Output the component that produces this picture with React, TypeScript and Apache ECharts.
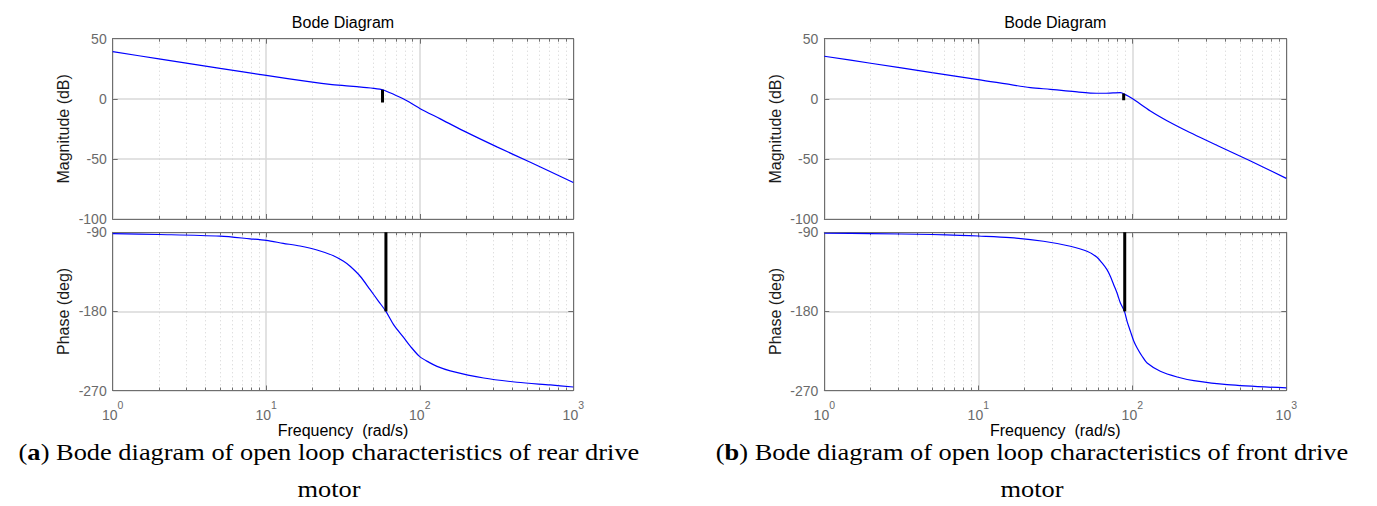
import React, { useEffect, useRef } from 'react';
import * as echarts from 'echarts';

// ---------- data ----------
// (a) rear drive motor
const rearMagFreq = [1, 2, 5, 10, 20, 26, 35, 43, 50, 58, 64, 70, 78, 83, 100, 136, 193, 318, 525, 1000];
const rearMag = [39.2, 33.2, 25.3, 19.5, 13.8, 12.0, 10.6, 9.5, 8.7, 7.3, 5.0, 2.8, 0, -1.9, -8, -16.7, -26.7, -40, -52.8, -69.7];
const rearPhFreq = [1, 2, 5, 7.85, 10, 12.9, 16.6, 21.4, 27.4, 31.9, 35.2, 40.9, 47.5, 53.9, 60.2, 67.5, 78.4, 86.7, 100, 115, 129.5, 158, 261, 430, 709, 1000];
const rearPh = [-91.6, -92.5, -94.4, -97.4, -99.2, -102.5, -105.6, -110.1, -116.6, -123, -128.7, -140, -155.3, -168.5, -180, -195, -209.5, -219.5, -231.5, -238, -242.5, -247.6, -255.8, -260.6, -263.7, -266];
const rearMarkerMagFreq = 57.2;
const rearMarkerMag = [7.5, -3];
const rearMarkerPhFreq = 60.2;
const rearMarkerPh = [-90, -180];

// (b) front drive motor
const frontMagFreq = [1, 2, 5, 10, 21.8, 29.3, 35.8, 45, 53.4, 65.2, 75, 83.7, 90.2, 100, 131, 168, 216, 356, 586, 1000];
const frontMag = [35.4, 29.6, 21.8, 16, 9.3, 7.9, 6.8, 5.5, 4.8, 4.6, 4.9, 5.1, 3.5, 0.2, -10.2, -18.3, -25.5, -38.8, -51.8, -66.2];
const frontPhFreq = [1, 2, 5, 7.63, 10, 16.1, 26.5, 39.6, 50.8, 59, 63.6, 68.5, 72, 75.7, 79.6, 83.7, 88.9, 92.5, 97.2, 102, 107.5, 115.8, 124.8, 152, 195.6, 251, 413, 1000];
const frontPh = [-91.1, -91.5, -92.5, -93.4, -94.2, -96.1, -100.2, -105.9, -111.6, -118.4, -124.9, -132.5, -140.1, -149.6, -159.1, -170.4, -180, -191.4, -202.6, -213.3, -221.6, -231, -238.7, -248.1, -254.6, -258.8, -263.4, -267.1];
const frontMarkerMagFreq = 87.9;
const frontMarkerMag = [4.5, -1.3];
const frontMarkerPhFreq = 89.3;
const frontMarkerPh = [-90, -180];

// axes
const freqRange = [1, 1000];
const magRange = [-100, 50];
const magStep = 50;
const phRange = [-270, -90];
const phStep = 90;

const titleText = 'Bode Diagram';
const xLabelText = 'Frequency  (rad/s)';
const magLabelText = 'Magnitude (dB)';
const phLabelText = 'Phase (deg)';
const captionA = ['a', ') Bode diagram of open loop characteristics of rear drive', 'motor'];
const captionB = ['b', ') Bode diagram of open loop characteristics of front drive', 'motor'];

// ---------- styling ----------
const SANS = '"Liberation Sans", Arial, Helvetica, sans-serif';
const SERIF = '"Liberation Serif", "Times New Roman", serif';
const BORDER = '#6e6e6e';
const TICKLABEL = '#6a6a6a';
const GRID = '#d9d9d9';
const MINOR = '#d2d2d2';
const CURVE = '#0000ff';

const zip = (a: number[], b: number[]) => a.map((v, i) => [v, b[i]]);

function buildOption() {
  const cols = [
    { left: 112.7, width: 460.6, mag: zip(rearMagFreq, rearMag), ph: zip(rearPhFreq, rearPh),
      mMag: [[rearMarkerMagFreq, rearMarkerMag[0]], [rearMarkerMagFreq, rearMarkerMag[1]]],
      mPh: [[rearMarkerPhFreq, rearMarkerPh[0]], [rearMarkerPhFreq, rearMarkerPh[1]]], cap: captionA, capX: 329 },
    { left: 824.3, width: 462, mag: zip(frontMagFreq, frontMag), ph: zip(frontPhFreq, frontPh),
      mMag: [[frontMarkerMagFreq, frontMarkerMag[0]], [frontMarkerMagFreq, frontMarkerMag[1]]],
      mPh: [[frontMarkerPhFreq, frontMarkerPh[0]], [frontMarkerPhFreq, frontMarkerPh[1]]], cap: captionB, capX: 1032 },
  ];
  const rows = [
    { top: 38.7, height: 180.3, range: magRange, step: magStep, key: 'mag', showX: false },
    { top: 232.3, height: 158.2, range: phRange, step: phStep, key: 'ph', showX: true },
  ];

  const grid: any[] = [];
  const xAxis: any[] = [];
  const yAxis: any[] = [];
  const series: any[] = [];
  const graphic: any[] = [];

  cols.forEach((c) => {
    rows.forEach((r) => {
      const gi = grid.length;
      grid.push({ left: c.left, top: r.top, width: c.width, height: r.height, containLabel: false, show: false });
      const baseX = {
        type: 'log', logBase: 10, min: freqRange[0], max: freqRange[1], gridIndex: gi,
        axisLine: { show: true, onZero: false, lineStyle: { color: BORDER, width: 1 } },
        axisTick: { show: true, inside: true, length: 5, lineStyle: { color: BORDER, width: 1 } },
        minorTick: { show: true, splitNumber: 9, length: 3, lineStyle: { color: BORDER, width: 1 } },
      };
      xAxis.push({
        ...baseX, position: 'bottom',
        splitLine: { show: true, lineStyle: { color: GRID, width: 1.5 } },
        minorSplitLine: { show: true, lineStyle: { color: MINOR, width: 1, type: [1, 3] } },
        axisLabel: r.showX ? {
          show: true, margin: 9,
          formatter: (v: number) => `{b|10}{s|${Math.round(Math.log10(v))}}`,
          rich: {
            b: { fontSize: 14, fontFamily: SANS, color: TICKLABEL, lineHeight: 22, verticalAlign: 'bottom' },
            s: { fontSize: 10.5, fontFamily: SANS, color: TICKLABEL, verticalAlign: 'top' },
          },
        } : { show: false },
      });
      xAxis.push({ ...baseX, position: 'top', splitLine: { show: false }, axisLabel: { show: false } });
      const baseY = {
        type: 'value', min: r.range[0], max: r.range[1], interval: r.step, gridIndex: gi,
        axisLine: { show: true, onZero: false, lineStyle: { color: BORDER, width: 1 } },
        axisTick: { show: true, inside: true, length: 5, lineStyle: { color: BORDER, width: 1 } },
      };
      yAxis.push({
        ...baseY, position: 'left',
        splitLine: { show: true, lineStyle: { color: GRID, width: 1.5 } },
        axisLabel: { show: true, margin: 6, fontSize: 14, fontFamily: SANS, color: TICKLABEL },
      });
      yAxis.push({ ...baseY, position: 'right', splitLine: { show: false }, axisLabel: { show: false } });

      series.push({
        type: 'line', xAxisIndex: 2 * gi, yAxisIndex: 2 * gi, data: (c as any)[r.key],
        showSymbol: false, symbol: 'none', smooth: 0.3,
        lineStyle: { color: CURVE, width: 1.2 }, z: 3, silent: true,
      });
      series.push({
        type: 'line', xAxisIndex: 2 * gi, yAxisIndex: 2 * gi,
        data: r.key === 'mag' ? c.mMag : c.mPh,
        showSymbol: false, symbol: 'none', lineStyle: { color: '#000', width: 3, cap: 'butt' }, z: 4, silent: true,
      });

      const yc = r.top + r.height / 2;
      graphic.push({
        type: 'text', x: c.left - 49, y: yc, rotation: Math.PI / 2,
        style: { text: r.key === 'mag' ? magLabelText : phLabelText, fontSize: 16, fontFamily: SANS, fill: '#1a1a1a', textAlign: 'center', textVerticalAlign: 'middle' },
      });
    });
    const xc = c.left + c.width / 2;
    graphic.push({
      type: 'text', x: xc, y: 22,
      style: { text: titleText, fontSize: 16, fontFamily: SANS, fill: '#000', textAlign: 'center', textVerticalAlign: 'middle' },
    });
    graphic.push({
      type: 'text', x: xc, y: 430.5,
      style: { text: xLabelText, fontSize: 16, fontFamily: SANS, fill: '#000', textAlign: 'center', textVerticalAlign: 'middle' },
    });
    graphic.push({
      type: 'text', x: c.capX, y: 451.5, scaleX: 1.1,
      style: {
        text: `({a|${c.cap[0]}}${c.cap[1]}`,
        fontSize: 24, fontFamily: SERIF, fill: '#000', textAlign: 'center', textVerticalAlign: 'middle',
        rich: { a: { fontSize: 24, fontFamily: SERIF, fontWeight: 'bold', fill: '#000' } },
      },
    });
    graphic.push({
      type: 'text', x: c.capX, y: 489, scaleX: 1.1,
      style: { text: c.cap[2], fontSize: 24, fontFamily: SERIF, fill: '#000', textAlign: 'center', textVerticalAlign: 'middle' },
    });
  });

  return { animation: false, backgroundColor: '#ffffff', grid, xAxis, yAxis, series, graphic };
}

export default function App() {
  const ref = useRef<HTMLDivElement>(null);
  useEffect(() => {
    if (!ref.current) return;
    const chart = echarts.init(ref.current, null, { renderer: 'svg' });
    chart.setOption(buildOption() as any);
    return () => chart.dispose();
  }, []);
  return (
    <div
      ref={ref}
      style={{ position: 'fixed', left: 0, top: 0, width: 1377, height: 506, background: '#ffffff' }}
    />
  );
}
